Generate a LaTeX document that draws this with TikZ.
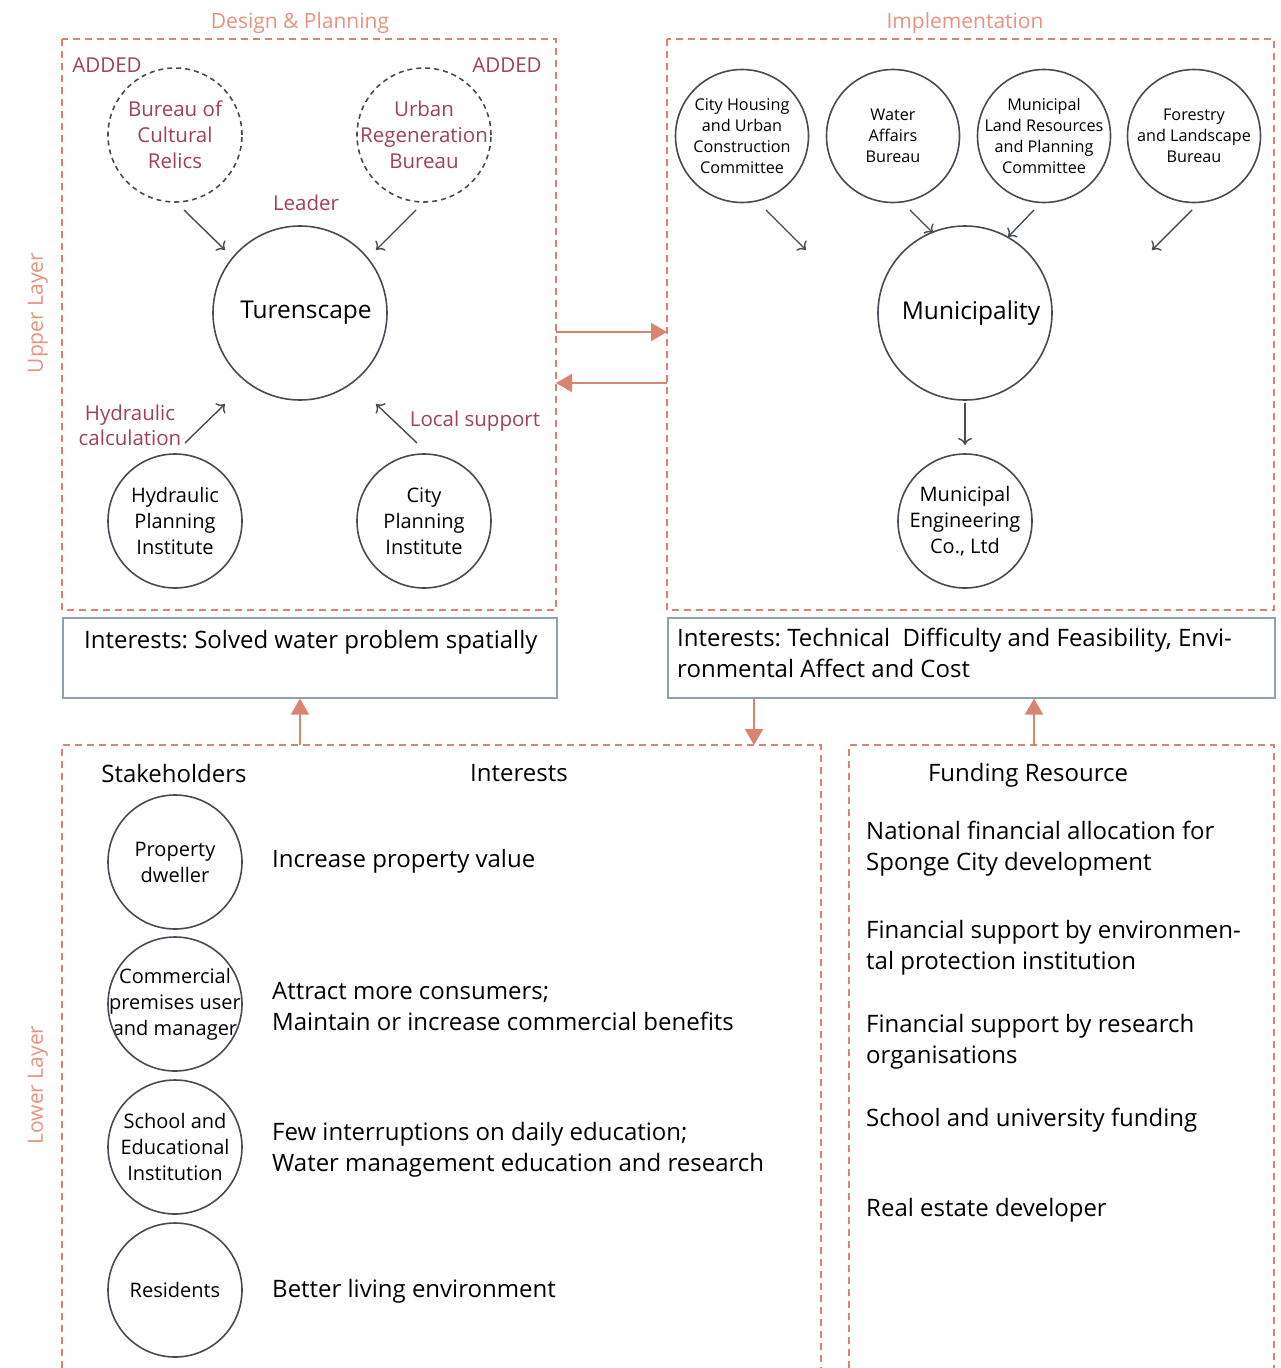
\documentclass[tikz,border=0pt]{standalone}
\usepackage{fontspec}
\setmainfont{Open Sans}
\frenchspacing
\usetikzlibrary{arrows.meta,calc}
\definecolor{orng}{HTML}{D98470}
\definecolor{lorng}{HTML}{E8937D}
\definecolor{maroon}{HTML}{A0405A}
\definecolor{dgray}{HTML}{474B54}
\definecolor{bgray}{HTML}{8FA3AD}
\tikzset{
  obox/.style={draw=orng,line width=1.6pt,dash pattern=on 7pt off 5pt},
  ctext/.style={inner sep=0pt,align=center,font=\fontsize{20}{26}\selectfont},
  ring/.style={draw=dgray,line width=1.6pt},
  dring/.style={ring,dash pattern=on 5pt off 4pt},
  dtext/.style={ctext,text=maroon,font=\fontsize{20.5}{26}\selectfont},
  stext/.style={ctext,font=\fontsize{16.2}{21}\selectfont},
  btext/.style={ctext,font=\fontsize{24.5}{30}\selectfont},
  garr/.style={draw=dgray,line width=1.4pt,-{To[length=7pt,width=14pt]}},
  oarr/.style={draw=orng,line width=2pt,-{Triangle[length=16pt,width=18pt]}},
  otitle/.style={text=lorng,font=\fontsize{21}{25}\selectfont},
  mlab/.style={text=maroon,font=\fontsize{20.5}{25}\selectfont,align=center},
  itext/.style={anchor=west,align=left,inner sep=0pt,font=\fontsize{24}{31}\selectfont},
  ibox/.style={draw=bgray,line width=1.6pt},
}
\begin{document}
\begin{tikzpicture}[x=1pt,y=-1pt]
\useasboundingbox (0,0) rectangle (1281,1368);
% titles
\node[otitle] (dp) at (300,23) {Design \& Planning};
\node[otitle] (impl) at (965,23) {Implementation};
\node[otitle,rotate=90] (ul) at (38,313) {Upper Layer};
\node[otitle,rotate=90] (ll) at (38,1085) {Lower Layer};
% dashed boxes
\draw[obox] (62,39) rectangle (556,610);
\draw[obox] (667,39) rectangle (1274,610);
\draw[obox] (62,1368) -- (62,745) -- (821,745) -- (821,1368);
\draw[obox] (849,1368) -- (849,745) -- (1274,745) -- (1274,1368);
% left upper
\node[mlab] (add1) at (107,65) {ADDED};
\node[mlab] (add2) at (507,65) {ADDED};
\node[dtext] (bcr) at (175,135) {Bureau of\\Cultural\\Relics};
\draw[dring] (bcr) circle[radius=67pt];
\node[dtext] (urb) at (424,135) {Urban\\Regeneration\\Bureau};
\draw[dring] (urb) circle[radius=67pt];
\node[btext] (tur) at (306,313) {Turenscape};
\draw[ring] ($(tur)+(-6,0)$) circle[radius=87pt];
\node[mlab] (lead) at (306,203) {Leader};
\node[ctext] (hpi) at (175,521) {Hydraulic\\Planning\\Institute};
\draw[ring] (hpi) circle[radius=67pt];
\node[ctext] (cpi) at (424,521) {City\\Planning\\Institute};
\draw[ring] (cpi) circle[radius=67pt];
\node[mlab] (hc) at (130,425) {Hydraulic\\calculation};
\node[mlab] (ls) at (475,421) {Local support};
\draw[garr] ($(bcr)+(9,75)$) -- ($(tur)+(-81,-63)$);
\draw[garr] ($(urb)+(-8,75)$) -- ($(tur)+(70,-63)$);
\draw[garr] ($(hpi)+(10,-78)$) -- ($(tur)+(-81,91)$);
\draw[garr] ($(cpi)+(-7,-78)$) -- ($(tur)+(70,91)$);
% right upper
\node[stext] (chu) at (742,136) {City Housing\\and Urban\\Construction\\Committee};
\draw[ring] (chu) circle[radius=66.5pt];
\node[stext] (wab) at (893,136) {Water\\Affairs\\Bureau};
\draw[ring] (wab) circle[radius=66.5pt];
\node[stext] (mlr) at (1044,136) {Municipal\\Land Resources\\and Planning\\Committee};
\draw[ring] (mlr) circle[radius=66.5pt];
\node[stext] (flb) at (1194,136) {Forestry\\and Landscape\\Bureau};
\draw[ring] (flb) circle[radius=66.5pt];
\node[btext] (mun) at (971,313) {Municipality};
\draw[ring] ($(mun)+(-6,0)$) circle[radius=87pt];
\node[ctext] (meg) at (965,521) {Municipal\\Engineering\\Co., Ltd};
\draw[ring] (meg) circle[radius=67pt];
\draw[garr] ($(chu)+(24,74)$) -- ($(mun)+(-165,-63)$);
\draw[garr] ($(wab)+(17,74)$) -- ($(mun)+(-38,-80)$);
\draw[garr] ($(mlr)+(-10,74)$) -- ($(mun)+(37,-76)$);
\draw[garr] ($(flb)+(-2,74)$) -- ($(mun)+(181,-63)$);
\draw[garr] ($(mun)+(-6,90)$) -- ($(meg)+(0,-76)$);
% horizontal orange arrows
\coordinate (lb1) at (556,332);
\coordinate (rb1) at (667,332);
\coordinate (lb2) at (556,383);
\coordinate (rb2) at (667,383);
\draw[oarr] (lb1) -- (rb1);
\draw[oarr] (rb2) -- (lb2);
% interests boxes
\node[ibox,minimum width=494pt,minimum height=80pt,anchor=north west] (ib1) at (62,617) {};
\node[ibox,minimum width=607pt,minimum height=80pt,anchor=north west] (ib2) at (667,617) {};
\node[itext] (ib1t) at (84,642) {Interests: Solved water problem spatially};
\node[itext,anchor=north west] (ib2t) at (677,628) {Interests: Technical\ \ Difficulty and Feasibility, Envi-\\ronmental Affect and Cost};
\coordinate (lt1) at (300,745);
\coordinate (lt2) at (754,745);
\coordinate (lt3) at (1034,745);
\draw[oarr] (lt1) -- (ib1.south -| lt1);
\draw[oarr] (ib2.south -| lt2) -- (lt2);
\draw[oarr] (lt3) -- (ib2.south -| lt3);
% lower left
\node[itext,anchor=center] (sh) at (174,773) {Stakeholders};
\node[itext,anchor=center] (in) at (519,773) {Interests};
\node[ctext] (pd) at (175,862) {Property\\dweller};
\draw[ring] (pd) circle[radius=67pt];
\node[ctext] (cp) at (175,1004) {Commercial\\premises user\\and manager};
\draw[ring] (cp) circle[radius=67pt];
\node[ctext] (se) at (175,1147) {School and\\Educational\\Institution};
\draw[ring] (se) circle[radius=67pt];
\node[ctext] (rs) at (175,1290) {Residents};
\draw[ring] (rs) circle[radius=67pt];
\node[itext] (t1) at (272,861) {Increase property value};
\node[itext] (t2) at (272,1007) {Attract more consumers;\\Maintain or increase commercial benefits};
\node[itext] (t3) at (272,1150) {Few interruptions on daily education;\\Water management education and research};
\node[itext] (t4) at (272,1291) {Better living environment};
% lower right
\node[itext,anchor=center] (fr) at (1028,775) {Funding Resource};
\node[itext] (f1) at (866,849) {National financial allocation for\\Sponge City development};
\node[itext] (f2) at (866,948) {Financial support by environmen-\\tal protection institution};
\node[itext] (f3) at (866,1042) {Financial support by research\\organisations};
\node[itext] (f4) at (866,1120) {School and university funding};
\node[itext] (f5) at (866,1210) {Real estate developer};
\end{tikzpicture}
\end{document}
